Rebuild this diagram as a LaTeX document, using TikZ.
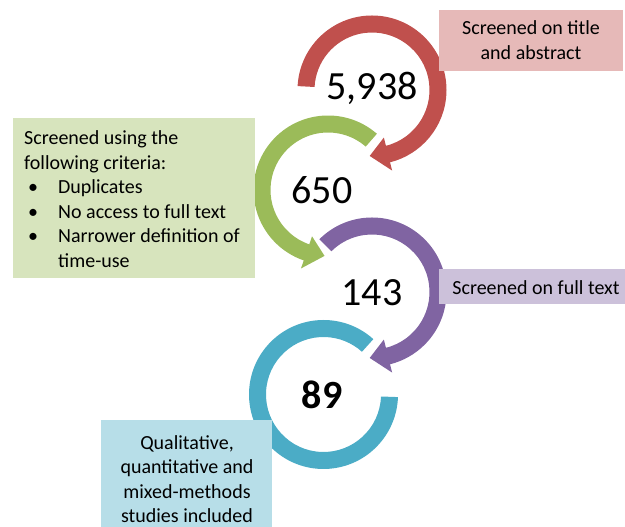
\documentclass[tikz,border=0pt]{standalone}
\usepackage{fontspec}
\setmainfont{Carlito}
\definecolor{cRed}{HTML}{C0504D}
\definecolor{cGreen}{HTML}{9BBB59}
\definecolor{cPurple}{HTML}{8064A2}
\definecolor{cTeal}{HTML}{4BACC6}
\definecolor{bRed}{HTML}{E6B9B8}
\definecolor{bGreen}{HTML}{D7E4BD}
\definecolor{bPurple}{HTML}{CCC1DA}
\definecolor{bTeal}{HTML}{B7DEE8}
\newcommand{\Rout}{74.5}
\newcommand{\Rin}{57.5}
\newcommand{\Rmid}{66}
\newcommand{\Rho}{83}
\newcommand{\Rhi}{49}
% #1 centre, #2 start angle, #3 head base angle, #4 tip angle, #5 colour
\newcommand{\arcarrowshape}[5]{%
  \fill[#5] ([shift={(#2:\Rout)}]#1) arc[start angle=#2,end angle=#3,radius=\Rout]
    -- ([shift={(#3:\Rho)}]#1) -- ([shift={(#4:\Rmid)}]#1) -- ([shift={(#3:\Rhi)}]#1)
    -- ([shift={(#3:\Rin)}]#1) arc[start angle=#3,end angle=#2,radius=\Rin] -- cycle;}
\begin{document}
\begin{tikzpicture}[x=1pt,y=1pt,
  numtext/.style={font=\fontsize{40}{48}\selectfont, inner sep=0pt},
  labtext/.style={font=\fontsize{20}{24.5}\selectfont, inner sep=0pt}]
\useasboundingbox (0,0) rectangle (625,527);
% circle centres
\coordinate (c1) at (372,437);
\coordinate (c2) at (328,337);
\coordinate (c3) at (372,235);
\coordinate (c4) at (323.5,132.5);
% arcs
\arcarrowshape{c1}{177}{-76}{-92}{cRed}
\arcarrowshape{c2}{49}{251}{267}{cGreen}
\arcarrowshape{c3}{135}{-76}{-92}{cPurple}
\fill[cTeal] ([shift={(48:\Rout)}]c4) arc[start angle=48,end angle=358,radius=\Rout]
  -- ([shift={(358:\Rin)}]c4) arc[start angle=358,end angle=48,radius=\Rin] -- cycle;
% numbers
\node[numtext] (n1) at (372,439) {5,938};
\node[numtext] (n2) at (322,337) {650};
\node[numtext] (n3) at (372,234) {143};
\node[numtext] (n4) at (322,132) {\bfseries 89};
% boxes
\fill[bRed] (439,456) rectangle (623,517);
\node[labtext, align=center] (t1) at (531,487) {Screened on title\\and abstract};
\fill[bGreen] (13,249) rectangle (255,409);
\node[labtext, align=left, anchor=west] (t2) at (24,328) {Screened using the\\following criteria:\\
  \makebox[34pt][l]{\hspace{4pt}•}Duplicates\\
  \makebox[34pt][l]{\hspace{4pt}•}No access to full text\\
  \makebox[34pt][l]{\hspace{4pt}•}Narrower definition of\\
  \hspace*{34pt}time-use};
\fill[bPurple] (439,223) rectangle (625,258);
\node[labtext] (t3) at (536,239) {Screened on full text};
\fill[bTeal] (101,0) rectangle (272,107);
\node[labtext, align=center] (t4) at (187,48) {Qualitative,\\quantitative and\\mixed-methods\\studies included};
\end{tikzpicture}
\end{document}
